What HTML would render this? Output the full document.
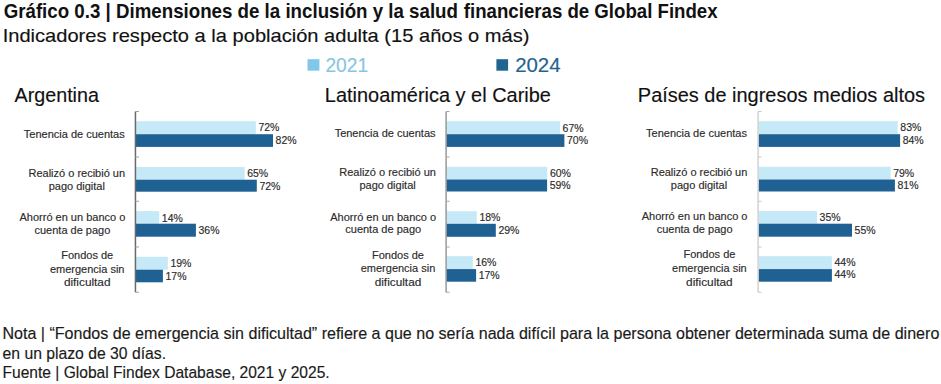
<!DOCTYPE html><html><head><meta charset="utf-8"><style>html,body{margin:0;padding:0;background:#fff;width:941px;height:384px;overflow:hidden}svg{display:block}text{font-family:"Liberation Sans",sans-serif}</style></head><body>
<svg width="941" height="384" viewBox="0 0 941 384">
<rect width="941" height="384" fill="#fff"/>
<text x="3.67" y="17.60" font-size="19.3" fill="#111" font-weight="bold" textLength="454.3" lengthAdjust="spacingAndGlyphs">Gráfico 0.3 | Dimensiones de la inclusión y la salud</text>
<text x="463.86" y="17.60" font-size="19.3" fill="#111" font-weight="bold" textLength="253.7" lengthAdjust="spacingAndGlyphs">financieras de Global Findex</text>
<text x="2.65" y="41.70" font-size="19.0" fill="#111" stroke="#111" stroke-width="0.15" textLength="526.8" lengthAdjust="spacingAndGlyphs">Indicadores respecto a la población adulta (15 años o más)</text>
<rect x="307.5" y="59.2" width="11.9" height="11.5" fill="#80c8ea"/>
<text x="325.41" y="71.70" font-size="19.4" fill="#88c5e3" stroke="#88c5e3" stroke-width="0.15" textLength="42.67" lengthAdjust="spacingAndGlyphs">2021</text>
<rect x="496.4" y="59.2" width="11.7" height="11.5" fill="#1f6590"/>
<text x="515.15" y="71.70" font-size="19.4" fill="#1f6391" stroke="#1f6391" stroke-width="0.15" textLength="45.43" lengthAdjust="spacingAndGlyphs">2024</text>
<text x="14.50" y="101.80" font-size="19.9" fill="#111" stroke="#111" stroke-width="0.15" textLength="84.46" lengthAdjust="spacingAndGlyphs">Argentina</text>
<text x="324.85" y="101.80" font-size="19.9" fill="#111" stroke="#111" stroke-width="0.15" textLength="226.05" lengthAdjust="spacingAndGlyphs">Latinoamérica y el Caribe</text>
<text x="637.85" y="101.80" font-size="19.9" fill="#111" stroke="#111" stroke-width="0.15" textLength="287.17" lengthAdjust="spacingAndGlyphs">Países de ingresos medios altos</text>
<rect x="135.4" y="121.2" width="120.40" height="13.00" fill="#c6e9f7"/>
<rect x="135.4" y="134.2" width="137.60" height="12.70" fill="#1f6192"/>
<text x="258.40" y="131.30" font-size="10.5" fill="#2b2b2b" stroke="#2b2b2b" stroke-width="0.15">72%</text>
<text x="275.60" y="144.05" font-size="10.5" fill="#2b2b2b" stroke="#2b2b2b" stroke-width="0.15">82%</text>
<rect x="135.4" y="167.0" width="109.20" height="12.70" fill="#c6e9f7"/>
<rect x="135.4" y="179.7" width="121.40" height="12.00" fill="#1f6192"/>
<text x="247.20" y="177.45" font-size="10.5" fill="#2b2b2b" stroke="#2b2b2b" stroke-width="0.15">65%</text>
<text x="259.40" y="189.70" font-size="10.5" fill="#2b2b2b" stroke="#2b2b2b" stroke-width="0.15">72%</text>
<rect x="135.4" y="211.1" width="23.80" height="12.60" fill="#c6e9f7"/>
<rect x="135.4" y="223.7" width="60.50" height="13.00" fill="#1f6192"/>
<text x="161.80" y="221.60" font-size="10.5" fill="#2b2b2b" stroke="#2b2b2b" stroke-width="0.15">14%</text>
<text x="198.50" y="234.30" font-size="10.5" fill="#2b2b2b" stroke="#2b2b2b" stroke-width="0.15">36%</text>
<rect x="135.4" y="256.75" width="32.40" height="12.95" fill="#c6e9f7"/>
<rect x="135.4" y="269.7" width="27.50" height="12.60" fill="#1f6192"/>
<text x="170.40" y="266.83" font-size="10.5" fill="#2b2b2b" stroke="#2b2b2b" stroke-width="0.15">19%</text>
<text x="165.50" y="279.50" font-size="10.5" fill="#2b2b2b" stroke="#2b2b2b" stroke-width="0.15">17%</text>
<line x1="135.45" y1="111.5" x2="135.45" y2="292.25" stroke="#6a6a6a" stroke-width="1.5"/>
<line x1="135.45" y1="111.5" x2="138.95" y2="111.5" stroke="#a0a0a0" stroke-width="1"/>
<line x1="135.45" y1="157.0" x2="138.95" y2="157.0" stroke="#a0a0a0" stroke-width="1"/>
<line x1="135.45" y1="201.25" x2="138.95" y2="201.25" stroke="#a0a0a0" stroke-width="1"/>
<line x1="135.45" y1="247.0" x2="138.95" y2="247.0" stroke="#a0a0a0" stroke-width="1"/>
<line x1="135.45" y1="292.25" x2="138.95" y2="292.25" stroke="#a0a0a0" stroke-width="1"/>
<text x="74.30" y="137.50" font-size="11" fill="#2b2b2b" stroke="#2b2b2b" stroke-width="0.15" text-anchor="middle">Tenencia de cuentas</text>
<text x="76.80" y="176.70" font-size="11" fill="#2b2b2b" stroke="#2b2b2b" stroke-width="0.15" text-anchor="middle">Realizó o recibió un</text>
<text x="76.80" y="189.60" font-size="11" fill="#2b2b2b" stroke="#2b2b2b" stroke-width="0.15" text-anchor="middle">pago digital</text>
<text x="72.40" y="220.80" font-size="11" fill="#2b2b2b" stroke="#2b2b2b" stroke-width="0.15" text-anchor="middle">Ahorró en un banco o</text>
<text x="72.40" y="233.65" font-size="11" fill="#2b2b2b" stroke="#2b2b2b" stroke-width="0.15" text-anchor="middle">cuenta de pago</text>
<text x="87.20" y="259.05" font-size="11" fill="#2b2b2b" stroke="#2b2b2b" stroke-width="0.15" text-anchor="middle">Fondos de</text>
<text x="87.20" y="272.50" font-size="11" fill="#2b2b2b" stroke="#2b2b2b" stroke-width="0.15" text-anchor="middle">emergencia sin</text>
<text x="87.20" y="286.10" font-size="11" fill="#2b2b2b" stroke="#2b2b2b" stroke-width="0.15" text-anchor="middle" textLength="46.6" lengthAdjust="spacingAndGlyphs">dificultad</text>
<rect x="446.2" y="121.2" width="113.80" height="13.00" fill="#c6e9f7"/>
<rect x="446.2" y="134.2" width="118.20" height="12.70" fill="#1f6192"/>
<text x="562.60" y="131.60" font-size="10.5" fill="#2b2b2b" stroke="#2b2b2b" stroke-width="0.15">67%</text>
<text x="567.00" y="144.35" font-size="10.5" fill="#2b2b2b" stroke="#2b2b2b" stroke-width="0.15">70%</text>
<rect x="446.2" y="166.8" width="101.10" height="12.70" fill="#c6e9f7"/>
<rect x="446.2" y="179.5" width="100.90" height="12.00" fill="#1f6192"/>
<text x="549.90" y="176.65" font-size="10.5" fill="#2b2b2b" stroke="#2b2b2b" stroke-width="0.15">60%</text>
<text x="549.70" y="188.90" font-size="10.5" fill="#2b2b2b" stroke="#2b2b2b" stroke-width="0.15">59%</text>
<rect x="446.2" y="211.2" width="30.60" height="12.60" fill="#c6e9f7"/>
<rect x="446.2" y="223.79999999999998" width="49.60" height="13.00" fill="#1f6192"/>
<text x="479.40" y="221.40" font-size="10.5" fill="#2b2b2b" stroke="#2b2b2b" stroke-width="0.15">18%</text>
<text x="498.40" y="234.10" font-size="10.5" fill="#2b2b2b" stroke="#2b2b2b" stroke-width="0.15">29%</text>
<rect x="446.2" y="256.15" width="26.60" height="12.95" fill="#c6e9f7"/>
<rect x="446.2" y="269.09999999999997" width="29.90" height="12.60" fill="#1f6192"/>
<text x="475.40" y="265.93" font-size="10.5" fill="#2b2b2b" stroke="#2b2b2b" stroke-width="0.15">16%</text>
<text x="478.70" y="278.60" font-size="10.5" fill="#2b2b2b" stroke="#2b2b2b" stroke-width="0.15">17%</text>
<line x1="446.1" y1="111.5" x2="446.1" y2="292.25" stroke="#999999" stroke-width="1.5"/>
<line x1="446.1" y1="111.5" x2="449.6" y2="111.5" stroke="#a8a8a8" stroke-width="1"/>
<line x1="446.1" y1="157.0" x2="449.6" y2="157.0" stroke="#a8a8a8" stroke-width="1"/>
<line x1="446.1" y1="201.25" x2="449.6" y2="201.25" stroke="#a8a8a8" stroke-width="1"/>
<line x1="446.1" y1="247.0" x2="449.6" y2="247.0" stroke="#a8a8a8" stroke-width="1"/>
<line x1="446.1" y1="292.25" x2="449.6" y2="292.25" stroke="#a8a8a8" stroke-width="1"/>
<text x="385.10" y="137.20" font-size="11" fill="#2b2b2b" stroke="#2b2b2b" stroke-width="0.15" text-anchor="middle">Tenencia de cuentas</text>
<text x="387.60" y="176.40" font-size="11" fill="#2b2b2b" stroke="#2b2b2b" stroke-width="0.15" text-anchor="middle">Realizó o recibió un</text>
<text x="387.60" y="189.30" font-size="11" fill="#2b2b2b" stroke="#2b2b2b" stroke-width="0.15" text-anchor="middle">pago digital</text>
<text x="383.20" y="220.50" font-size="11" fill="#2b2b2b" stroke="#2b2b2b" stroke-width="0.15" text-anchor="middle">Ahorró en un banco o</text>
<text x="383.20" y="233.35" font-size="11" fill="#2b2b2b" stroke="#2b2b2b" stroke-width="0.15" text-anchor="middle">cuenta de pago</text>
<text x="398.00" y="258.75" font-size="11" fill="#2b2b2b" stroke="#2b2b2b" stroke-width="0.15" text-anchor="middle">Fondos de</text>
<text x="398.00" y="272.20" font-size="11" fill="#2b2b2b" stroke="#2b2b2b" stroke-width="0.15" text-anchor="middle">emergencia sin</text>
<text x="398.00" y="285.80" font-size="11" fill="#2b2b2b" stroke="#2b2b2b" stroke-width="0.15" text-anchor="middle" textLength="46.6" lengthAdjust="spacingAndGlyphs">dificultad</text>
<rect x="758.4" y="121.2" width="139.30" height="13.00" fill="#c6e9f7"/>
<rect x="758.4" y="134.2" width="141.70" height="12.70" fill="#1f6192"/>
<text x="900.30" y="130.90" font-size="10.5" fill="#2b2b2b" stroke="#2b2b2b" stroke-width="0.15">83%</text>
<text x="902.70" y="143.65" font-size="10.5" fill="#2b2b2b" stroke="#2b2b2b" stroke-width="0.15">84%</text>
<rect x="758.4" y="166.8" width="132.20" height="12.70" fill="#c6e9f7"/>
<rect x="758.4" y="179.5" width="136.50" height="12.00" fill="#1f6192"/>
<text x="893.20" y="176.85" font-size="10.5" fill="#2b2b2b" stroke="#2b2b2b" stroke-width="0.15">79%</text>
<text x="897.50" y="189.10" font-size="10.5" fill="#2b2b2b" stroke="#2b2b2b" stroke-width="0.15">81%</text>
<rect x="758.4" y="211.1" width="58.60" height="12.60" fill="#c6e9f7"/>
<rect x="758.4" y="223.7" width="93.60" height="13.00" fill="#1f6192"/>
<text x="819.60" y="221.10" font-size="10.5" fill="#2b2b2b" stroke="#2b2b2b" stroke-width="0.15">35%</text>
<text x="854.60" y="233.80" font-size="10.5" fill="#2b2b2b" stroke="#2b2b2b" stroke-width="0.15">55%</text>
<rect x="758.4" y="256.15" width="73.50" height="12.95" fill="#c6e9f7"/>
<rect x="758.4" y="269.09999999999997" width="73.50" height="12.60" fill="#1f6192"/>
<text x="834.50" y="265.73" font-size="10.5" fill="#2b2b2b" stroke="#2b2b2b" stroke-width="0.15">44%</text>
<text x="834.50" y="278.40" font-size="10.5" fill="#2b2b2b" stroke="#2b2b2b" stroke-width="0.15">44%</text>
<line x1="758.1" y1="111.5" x2="758.1" y2="292.25" stroke="#d2d2d2" stroke-width="1.5"/>
<line x1="758.1" y1="111.5" x2="761.6" y2="111.5" stroke="#c8c8c8" stroke-width="1"/>
<line x1="758.1" y1="157.0" x2="761.6" y2="157.0" stroke="#c8c8c8" stroke-width="1"/>
<line x1="758.1" y1="201.25" x2="761.6" y2="201.25" stroke="#c8c8c8" stroke-width="1"/>
<line x1="758.1" y1="247.0" x2="761.6" y2="247.0" stroke="#c8c8c8" stroke-width="1"/>
<line x1="758.1" y1="292.25" x2="761.6" y2="292.25" stroke="#c8c8c8" stroke-width="1"/>
<text x="696.50" y="136.90" font-size="11" fill="#2b2b2b" stroke="#2b2b2b" stroke-width="0.15" text-anchor="middle">Tenencia de cuentas</text>
<text x="699.00" y="176.10" font-size="11" fill="#2b2b2b" stroke="#2b2b2b" stroke-width="0.15" text-anchor="middle">Realizó o recibió un</text>
<text x="699.00" y="189.00" font-size="11" fill="#2b2b2b" stroke="#2b2b2b" stroke-width="0.15" text-anchor="middle">pago digital</text>
<text x="694.60" y="220.20" font-size="11" fill="#2b2b2b" stroke="#2b2b2b" stroke-width="0.15" text-anchor="middle">Ahorró en un banco o</text>
<text x="694.60" y="233.05" font-size="11" fill="#2b2b2b" stroke="#2b2b2b" stroke-width="0.15" text-anchor="middle">cuenta de pago</text>
<text x="709.40" y="258.45" font-size="11" fill="#2b2b2b" stroke="#2b2b2b" stroke-width="0.15" text-anchor="middle">Fondos de</text>
<text x="709.40" y="271.90" font-size="11" fill="#2b2b2b" stroke="#2b2b2b" stroke-width="0.15" text-anchor="middle">emergencia sin</text>
<text x="709.40" y="285.50" font-size="11" fill="#2b2b2b" stroke="#2b2b2b" stroke-width="0.15" text-anchor="middle" textLength="46.6" lengthAdjust="spacingAndGlyphs">dificultad</text>
<text x="2.42" y="339.00" font-size="15.7" fill="#1a1a1a" stroke="#1a1a1a" stroke-width="0.15" textLength="936.92" lengthAdjust="spacingAndGlyphs">Nota | “Fondos de emergencia sin dificultad” refiere a que no sería nada difícil para la persona obtener determinada suma de dinero</text>
<text x="2.55" y="359.00" font-size="15.7" fill="#1a1a1a" stroke="#1a1a1a" stroke-width="0.15" textLength="163.51" lengthAdjust="spacingAndGlyphs">en un plazo de 30 días.</text>
<text x="2.46" y="377.90" font-size="15.7" fill="#1a1a1a" stroke="#1a1a1a" stroke-width="0.15" textLength="327.21" lengthAdjust="spacingAndGlyphs">Fuente | Global Findex Database, 2021 y 2025.</text>
</svg></body></html>
